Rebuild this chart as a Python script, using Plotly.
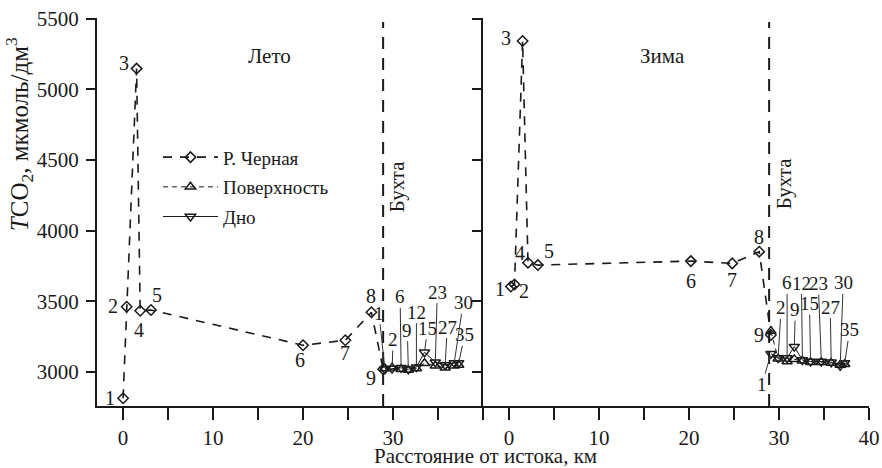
import plotly.graph_objects as go
from plotly.subplots import make_subplots

# ---------------- data ----------------
river_st = ["1", "2", "3", "4", "5", "6", "7", "8", "9"]
river_km_summer = [0.0, 0.4, 1.5, 1.9, 3.1, 20.0, 24.7, 27.6, 28.9]
river_tco2_summer = [2815, 3462, 5147, 3434, 3439, 3190, 3225, 3423, 3020]
river_km_winter = [0.2, 0.6, 1.5, 2.1, 3.2, 20.2, 24.8, 27.8, 29.1]
river_tco2_winter = [3605, 3620, 5342, 3774, 3757, 3785, 3769, 3852, 3262]

bay_st = ["1", "2", "6", "9", "12", "15", "23", "27", "30", "35"]
bay_km = [29.1, 29.9, 30.9, 31.7, 32.6, 33.5, 34.7, 35.8, 36.8, 37.3]
surf_summer = [3025, 3030, 3020, 3015, 3025, 3062, 3045, 3030, 3045, 3050]
bottom_summer = [3020, 3025, 3030, 3020, 3035, 3140, 3070, 3050, 3065, 3065]
surf_winter = [3290, 3095, 3075, 3090, 3080, 3070, 3070, 3065, 3050, 3055]
bottom_winter = [3130, 3100, 3100, 3180, 3085, 3075, 3075, 3070, 3045, 3065]

x_ticks = [0, 5, 10, 15, 20, 25, 30, 35, 40]
x_ticktext_left = ["0", "", "10", "", "20", "", "30", "", ""]
x_ticktext_right = ["0", "", "10", "", "20", "", "30", "", "40"]
y_ticks = [3000, 3500, 4000, 4500, 5000, 5500]
bay_boundary_km = 28.9

# ---------------- label placement (pixels) ----------------
river_off_summer = [(-13, 0), (-14, 1), (-13, 6), (-1, -19), (6, 15), (-3, -15), (0, -13), (0, 16), (-12, -9)]
river_off_winter = [(-11, -2), (10, -7), (-17, 3), (-8, 10), (11, 14), (0, -20), (0, -17), (0, 15), (-12, 0)]
bay_off_summer = [(-6, -56), (1, -29), (-1, -71), (-1, -39), (0, -55), (3, -24), (2, -70), (2, -38), (9, -60), (6, -28)]
bay_off_winter = [(-9, 31), (3, -50), (0, -75), (1, -37), (-1, -77), (-1, -58), (-3, -78), (-1, -55), (3, -83), (5, -33)]

FONT = "Liberation Serif, serif"
INK = "#1a1a1a"

fig = make_subplots(rows=1, cols=2, shared_yaxes=False, horizontal_spacing=0)

mk_line = dict(color=INK, width=1.5)


def add_panel(col, rk, rv, sv, bv, show):
    fig.add_trace(go.Scatter(
        x=rk, y=rv, mode="lines+markers", name="Р. Черная",
        line=dict(color=INK, width=1.6, dash="9px,8px"),
        marker=dict(symbol="diamond-open", size=8, color=INK, line=mk_line),
        showlegend=show, legendgroup="r"), row=1, col=col)
    fig.add_trace(go.Scatter(
        x=bay_km, y=sv, mode="lines+markers", name="Поверхность",
        line=dict(color=INK, width=1.0, dash="5px,4px"),
        marker=dict(symbol="triangle-up-open", size=9, color=INK, line=mk_line),
        showlegend=show, legendgroup="s"), row=1, col=col)
    fig.add_trace(go.Scatter(
        x=bay_km, y=bv, mode="lines+markers", name="Дно",
        line=dict(color=INK, width=1.0),
        marker=dict(symbol="triangle-down-open", size=9, color=INK, line=mk_line),
        showlegend=show, legendgroup="b"), row=1, col=col)


add_panel(1, river_km_summer, river_tco2_summer, surf_summer, bottom_summer, True)
add_panel(2, river_km_winter, river_tco2_winter, surf_winter, bottom_winter, False)

annotations = []
# river station labels
for (xr, yr, offs, xref, yref) in [
    (river_km_summer, river_tco2_summer, river_off_summer, "x", "y"),
    (river_km_winter, river_tco2_winter, river_off_winter, "x2", "y2"),
]:
    for s, xv, yv, (dx, dy) in zip(river_st, xr, yr, offs):
        annotations.append(dict(x=xv, y=yv, xref=xref, yref=yref, text=s, showarrow=False,
                                xshift=dx, yshift=dy, font=dict(family=FONT, size=20, color=INK)))
# bay station labels with leader lines
for (yr, offs, xref, yref) in [
    (bottom_summer, bay_off_summer, "x", "y"),
    (bottom_winter, bay_off_winter, "x2", "y2"),
]:
    for s, xv, yv, (ax, ay) in zip(bay_st, bay_km, yr, offs):
        annotations.append(dict(x=xv, y=yv, xref=xref, yref=yref, text=s, showarrow=True,
                                arrowhead=0, arrowwidth=1, arrowcolor="#333", ax=ax, ay=ay,
                                standoff=2, borderpad=0,
                                font=dict(family=FONT, size=19, color=INK)))

# panel titles
annotations += [
    dict(x=16.3, y=0.938, xref="x", yref="paper", text="Лето", showarrow=False,
         font=dict(family=FONT, size=21, color=INK)),
    dict(x=17.0, y=0.938, xref="x2", yref="paper", text="Зима", showarrow=False,
         font=dict(family=FONT, size=21, color=INK)),
    dict(x=bay_boundary_km, y=0.564, xref="x", yref="paper", text="Бухта", showarrow=False,
         textangle=-90, xshift=14, font=dict(family=FONT, size=21, color=INK)),
    dict(x=bay_boundary_km, y=0.572, xref="x2", yref="paper", text="Бухта", showarrow=False,
         textangle=-90, xshift=15, font=dict(family=FONT, size=21, color=INK)),
    dict(x=-0.100, y=0.70, xref="paper", yref="paper", xanchor="center", yanchor="middle",
         text="<i>T</i>CO<sub>2</sub>, мкмоль/дм<sup>3</sup>", showarrow=False,
         textangle=-90, font=dict(family=FONT, size=25, color=INK)),
    dict(x=0.5026, y=-0.128, xref="paper", yref="paper", xanchor="center", yanchor="middle",
         text="Расстояние от истока, км",
         showarrow=False, font=dict(family=FONT, size=21, color=INK)),
]

shapes = [
    dict(type="line", xref="x", yref="paper", x0=bay_boundary_km, x1=bay_boundary_km,
         y0=0, y1=0.99, line=dict(color=INK, width=2, dash="12px,9px")),
    dict(type="line", xref="x2", yref="paper", x0=bay_boundary_km, x1=bay_boundary_km,
         y0=0, y1=0.99, line=dict(color=INK, width=2, dash="12px,9px")),
]

axis_font = dict(family=FONT, size=21, color=INK)
xcommon = dict(range=[-2.9, 40], showline=True, linecolor=INK, linewidth=2, ticks="outside",
               ticklen=12, tickwidth=2, tickcolor=INK, tickvals=x_ticks, showgrid=False,
               zeroline=False, tickfont=axis_font, automargin=False)
ycommon = dict(range=[2760, 5505], showline=True, linecolor=INK, linewidth=2, ticks="outside",
               ticklen=9, tickwidth=2, tickcolor=INK, tickvals=y_ticks, showgrid=False,
               zeroline=False, tickfont=axis_font, automargin=False)

fig.update_layout(
    template="none",
    width=882, height=468,
    margin=dict(l=97, r=13, t=18, b=62),
    paper_bgcolor="white", plot_bgcolor="white",
    xaxis=dict(domain=[0, 0.5], ticktext=x_ticktext_left, **xcommon),
    xaxis2=dict(domain=[0.5, 1], ticktext=x_ticktext_right, **xcommon),
    yaxis=dict(ticktext=[str(v) for v in y_ticks], ticklabelstandoff=3, **ycommon),
    yaxis2=dict(showticklabels=False, **ycommon),
    legend=dict(x=0.079, y=0.69, xanchor="left", yanchor="top", bgcolor="rgba(0,0,0,0)",
                font=dict(family=FONT, size=19, color=INK), traceorder="grouped",
                tracegroupgap=2, itemwidth=55),
    annotations=annotations,
    shapes=shapes,
    font=dict(family=FONT, color=INK),
)

fig.write_html("out.html", config={"displayModeBar": False},
               post_script="document.body.style.margin='0';document.body.style.overflow='hidden';")
